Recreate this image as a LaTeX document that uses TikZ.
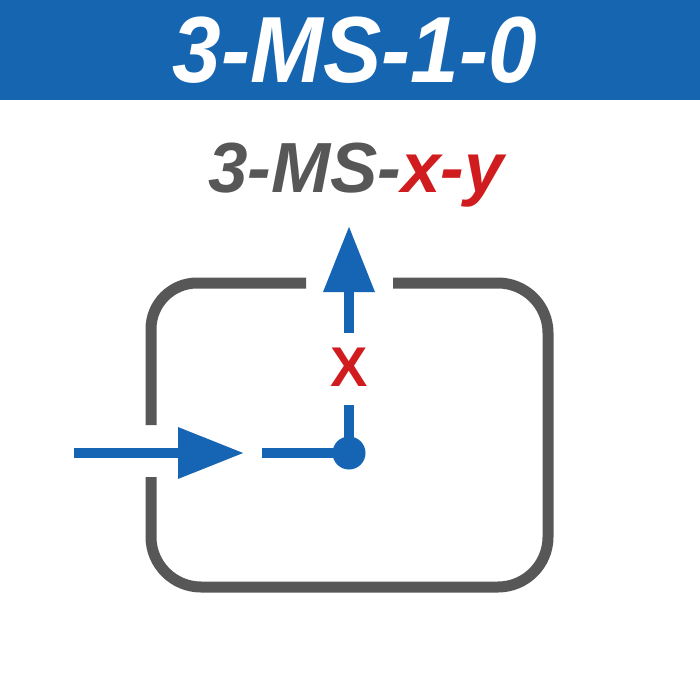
\documentclass[tikz,border=0pt]{standalone}
\usepackage{fontspec}
\setmainfont{Liberation Sans}
\usetikzlibrary{arrows.meta}
\definecolor{bannerblue}{HTML}{1565B1}
\definecolor{flowblue}{HTML}{1565B4}
\definecolor{framegray}{HTML}{575757}
\definecolor{markred}{HTML}{D01C1F}
\begin{document}
\begin{tikzpicture}[x=1pt,y=-1pt,
  frame/.style={draw=framegray,line width=11pt,line cap=butt},
  flow/.style={draw=flowblue,line width=10pt,line cap=butt},
  flowarrow/.style={flow,-{Triangle[length=66pt,width=49pt]}},
  dotnode/.style={circle,fill=flowblue,inner sep=0pt,minimum size=33pt},
  labelx/.style={text=markred,font=\fontsize{56}{60}\selectfont\bfseries,inner sep=0pt}
]
\useasboundingbox (0,0) rectangle (700,700);
\fill[bannerblue] (0,0) rectangle (700,100);
\node[anchor=base,inner sep=0pt,text=white,xscale=0.93,
      font=\fontsize{94}{100}\selectfont\bfseries\itshape] (title) at (355,83) {3-MS-1-0};
\node[anchor=base,inner sep=0pt,font=\fontsize{71}{76}\selectfont\bfseries\itshape] (subtitle) at (356,193)
  {\textcolor{framegray}{3-MS-}\textcolor{markred}{x-y}};
% frame
\draw[frame,rounded corners=46pt] (151,425) -- (151,283) -- (306,283);
\draw[frame,rounded corners=50pt] (393,283) -- (548,283) -- (548,587) -- (151,587) -- (151,477);
% flow
\coordinate (in) at (74,453);
\coordinate (intip) at (244,453);
\coordinate (seg) at (262,453);
\node[dotnode] (dot) at (349,453) {};
\coordinate (vlow) at (349,405);
\node[labelx] (x) at (349,367) {X};
\coordinate (vup) at (349,333);
\coordinate (outtip) at (349,226);
\draw[flowarrow] (in) -- (intip);
\draw[flow] (seg) -- (dot.center);
\draw[flow] (dot.center) -- (vlow);
\draw[flowarrow] (vup) -- (outtip);
\end{tikzpicture}
\end{document}
